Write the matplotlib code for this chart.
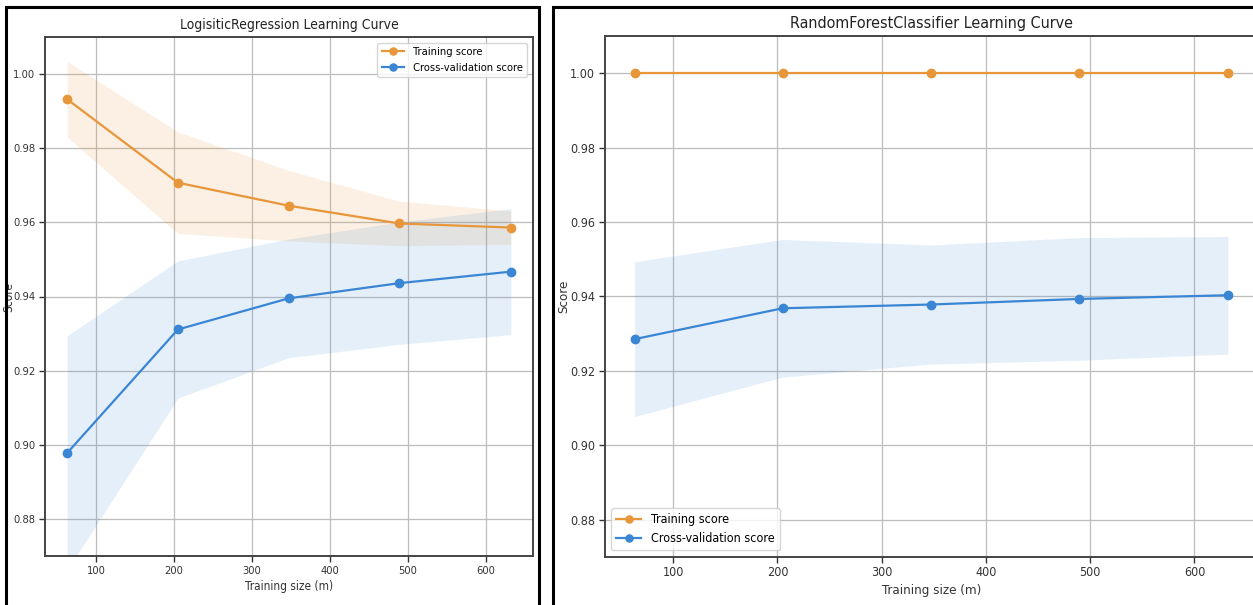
import matplotlib
matplotlib.use("Agg")
import matplotlib.pyplot as plt
from matplotlib import font_manager
from matplotlib.patches import Rectangle
import numpy as np

# ---------------- data ----------------
train_sizes = [63, 205, 347, 489, 632]

lr_train_mean = [0.9932, 0.9707, 0.9645, 0.9597, 0.9586]
lr_train_std = [0.0102, 0.0137, 0.0095, 0.0060, 0.0045]
lr_cv_mean = [0.8978, 0.9311, 0.9395, 0.9436, 0.9467]
lr_cv_std = [0.0316, 0.0185, 0.0160, 0.0165, 0.0170]

rf_train_mean = [1.0, 1.0, 1.0, 1.0, 1.0]
rf_train_std = [0.0003, 0.0003, 0.0003, 0.0003, 0.0003]
rf_cv_mean = [0.9285, 0.9368, 0.9378, 0.9393, 0.9403]
rf_cv_std = [0.0208, 0.0185, 0.0160, 0.0165, 0.0158]

yticks = [0.88, 0.90, 0.92, 0.94, 0.96, 0.98, 1.00]
xticks = [100, 200, 300, 400, 500, 600]

titles = ["LogisiticRegression Learning Curve", "RandomForestClassifier Learning Curve"]
legend_labels = ["Training score", "Cross-validation score"]

# ---------------- font choice ----------------
names = {f.name for f in font_manager.fontManager.ttflist}
if "Liberation Sans Narrow" in names:
    plt.rcParams["font.family"] = ["Liberation Sans Narrow", "DejaVu Sans"]
else:
    cond = [f for f in font_manager.fontManager.ttflist
            if "Condensed" in f.fname and "DejaVuSans" in f.fname]
    plt.rcParams["font.family"] = ["DejaVu Sans"]
    if cond:
        plt.rcParams["font.stretch"] = "condensed"

ORANGE = "#e8963a"
BLUE = "#3a86d4"

fig = plt.figure(figsize=(12.53, 6.05), dpi=100)
W, H = 1253.0, 605.0


def add_panel(rect_px, title, tr_m, tr_s, cv_m, cv_s, legend_loc,
              fs_tick, fs_title, fs_leg, fs_lab, ylab_x):
    l, t, r, b = rect_px
    ax = fig.add_axes([l / W, 1 - b / H, (r - l) / W, (b - t) / H])
    x = np.array(train_sizes)
    trm, trs = np.array(tr_m), np.array(tr_s)
    cvm, cvs = np.array(cv_m), np.array(cv_s)
    ax.grid(True, color="#bdbdbd", linewidth=0.9)
    ax.set_axisbelow(True)
    ax.fill_between(x, trm - trs, trm + trs, alpha=0.14, color=ORANGE, linewidth=0)
    ax.fill_between(x, cvm - cvs, cvm + cvs, alpha=0.13, color=BLUE, linewidth=0)
    ax.plot(x, trm, "o-", color=ORANGE, markersize=6, linewidth=1.6, label=legend_labels[0])
    ax.plot(x, cvm, "o-", color=BLUE, markersize=6, linewidth=1.6, label=legend_labels[1])
    ax.set_ylim(0.87, 1.01)
    ax.set_yticks(yticks)
    ax.set_yticklabels(["%.2f" % v for v in yticks])
    ax.set_xticks(xticks)
    ax.tick_params(labelsize=fs_tick, colors="#333333", length=4, width=1.0, pad=3)
    for s in ax.spines.values():
        s.set_color("#444444")
        s.set_linewidth(1.4)
    ax.set_title(title, fontsize=fs_title, color="#222222", pad=6)
    ax.set_xlabel("Training size (m)", fontsize=fs_lab, color="#333333", labelpad=3)
    ax.set_ylabel("Score", fontsize=fs_lab, color="#333333")
    ax.yaxis.set_label_coords(ylab_x, 0.5)
    ax.legend(loc=legend_loc, fontsize=fs_leg, framealpha=0.8, edgecolor="#cccccc",
              markerscale=0.85)
    return ax


ax1 = add_panel((45, 37, 533, 556), titles[0], lr_train_mean, lr_train_std,
                lr_cv_mean, lr_cv_std, "upper right",
                fs_tick=8, fs_title=10, fs_leg=8, fs_lab=8.5, ylab_x=(15 - 45) / 488)
ax2 = add_panel((605, 36, 1257.5, 556.7), titles[1], rf_train_mean, rf_train_std,
                rf_cv_mean, rf_cv_std, "lower left",
                fs_tick=9, fs_title=11.5, fs_leg=9, fs_lab=9.5, ylab_x=(570 - 605) / 652.5)

# screenshot frames
fig.add_artist(Rectangle((6 / W, -0.05), (539 - 6) / W, 1 - 7 / H + 0.05,
                         transform=fig.transFigure, fill=False, edgecolor="black",
                         linewidth=2.2, clip_on=False))
fig.add_artist(Rectangle((553 / W, -0.05), (1300 - 553) / W, 1 - 7 / H + 0.05,
                         transform=fig.transFigure, fill=False, edgecolor="black",
                         linewidth=2.2, clip_on=False))

fig.savefig("out.png", dpi=100)
